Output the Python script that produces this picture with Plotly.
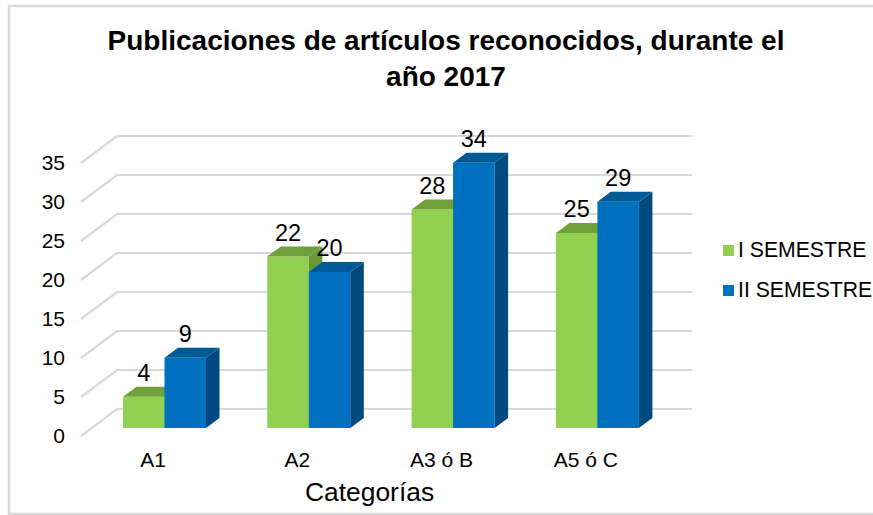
import plotly.graph_objects as go

categories = ["A1", "A2", "A3 ó B", "A5 ó C"]
series_names = ["I SEMESTRE", "II SEMESTRE"]
semestre_1 = [4, 22, 28, 25]
semestre_2 = [9, 20, 34, 29]
y_ticks = [0, 5, 10, 15, 20, 25, 30, 35]

title_text = "Publicaciones de artículos reconocidos, durante el<br>año 2017"
x_title = "Categorías"

W, H = 873, 515
L, R, T, B = 70, 700, 130, 445
PX_X = 144.3
PX_Y = 7.8
X0 = 153
FONT = "Liberation Sans, Arial, sans-serif"
GRID = "#d9d9d9"

def xval(px):
    return (px - X0) / PX_X

def pxp(px):
    return (px - L) / (R - L)

def pyp(py):
    return (B - py) / (B - T)

BAR_W = 41.5 / PX_X
OFFSETS = [xval(123) - 0, xval(123) + BAR_W]
DX = 13.5 / PX_X
DY = 10 / PX_Y
GRID_SHIFT = (436 - 409) / PX_Y

fig = go.Figure()

# back-wall gridlines, on the axis that carries the tick labels
gx, gy = [], []
for v in y_ticks:
    gx += [xval(81), xval(117), xval(692), None]
    gy += [v, v + GRID_SHIFT, v + GRID_SHIFT, None]
fig.add_trace(go.Scatter(x=gx, y=gy, mode="lines", yaxis="y",
                         line=dict(color=GRID, width=2.2), showlegend=False, hoverinfo="skip"))

def add_series(values, name, offset, axis, front, top, side):
    xs = list(range(len(values)))
    fig.add_trace(go.Bar(x=xs, y=values, width=BAR_W, offset=offset, yaxis=axis, name=name,
                         marker=dict(color=front, line=dict(width=0)), showlegend=False))
    sx, sy, tx, ty = [], [], [], []
    for i, v in zip(xs, values):
        a = i + offset
        b = a + BAR_W
        sx += [b, b + DX, b + DX, b, b, None]
        sy += [0, DY, v + DY, v, 0, None]
        tx += [a, b, b + DX, a + DX, a, None]
        ty += [v, v, v + DY, v + DY, v, None]
    for px_, py_, col in ((sx, sy, side), (tx, ty, top)):
        fig.add_trace(go.Scatter(x=px_, y=py_, mode="lines", fill="toself", fillcolor=col, yaxis=axis,
                                 line=dict(width=0, color=col), showlegend=False, hoverinfo="skip"))

add_series(semestre_1, series_names[0], OFFSETS[0], "y2", "#92d050", "#70a03c", "#6a9638")
add_series(semestre_2, series_names[1], OFFSETS[1], "y3", "#0070c0", "#005a96", "#004a80")

# value labels
for values, offset in ((semestre_1, OFFSETS[0]), (semestre_2, OFFSETS[1])):
    fig.add_trace(go.Scatter(x=[i + offset + BAR_W / 2 for i in range(len(values))],
                             y=[v + DY for v in values], text=[str(v) for v in values],
                             mode="text", textposition="top center", yaxis="y3",
                             textfont=dict(family=FONT, size=23.5, color="#000000"),
                             showlegend=False, hoverinfo="skip"))

y1_range = [(436 - B) / PX_Y, (436 - T) / PX_Y]
y2_range = [(428 - B) / PX_Y, (428 - T) / PX_Y]

shapes = [dict(type="rect", xref="paper", yref="paper", x0=pxp(9), x1=pxp(885), y0=pyp(514), y1=pyp(6),
               line=dict(color=GRID, width=2.5), fillcolor="rgba(0,0,0,0)", layer="below")]
annotations = [dict(text=x_title, xref="paper", yref="paper", x=pxp(369), y=pyp(492), showarrow=False,
                    xanchor="center", yanchor="middle", font=dict(family=FONT, size=26.4, color="#000000"))]
for name, color, yc in zip(series_names, ["#92d050", "#0070c0"], [250.5, 290.5]):
    shapes.append(dict(type="rect", xref="paper", yref="paper", x0=pxp(723), x1=pxp(734),
                       y0=pyp(yc + 5.5), y1=pyp(yc - 5.5), fillcolor=color, line=dict(width=0)))
    annotations.append(dict(text=name, xref="paper", yref="paper", x=pxp(738), y=pyp(yc - 1.5), showarrow=False,
                            xanchor="left", yanchor="middle", xshift=-2,
                            font=dict(family=FONT, size=21.2, color="#000000")))

fig.update_layout(
    width=W, height=H, autosize=False,
    margin=dict(l=L, r=W - R, t=T, b=H - B),
    paper_bgcolor="white", plot_bgcolor="rgba(0,0,0,0)",
    showlegend=False, barmode="overlay",
    title=dict(text=title_text, x=446 / W, xanchor="center", y=1 - 50 / H, yanchor="top",
               font=dict(family=FONT, size=28, color="#000000", weight="bold")),
    xaxis=dict(range=[xval(L), xval(R)], tickvals=list(range(len(categories))), ticktext=categories,
               showgrid=False, zeroline=False, showline=False, ticks="",
               tickfont=dict(family=FONT, size=21, color="#000000")),
    yaxis=dict(range=y1_range, tickvals=y_ticks, showgrid=False, zeroline=False, showline=False, ticks="",
               ticklabelstandoff=4,
               tickfont=dict(family=FONT, size=21, color="#000000")),
    yaxis2=dict(range=y2_range, overlaying="y", visible=False),
    yaxis3=dict(range=y2_range, overlaying="y", visible=False),
    shapes=shapes, annotations=annotations,
)

fig.write_html("out.html", config=dict(displayModeBar=False),
               post_script="document.body.style.margin='0';document.body.style.overflow='hidden';")
